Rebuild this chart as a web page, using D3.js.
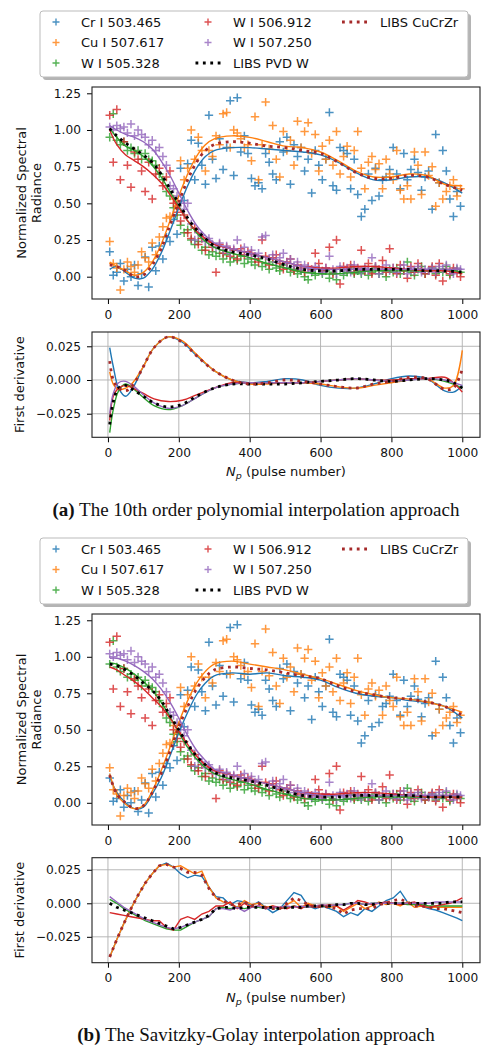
<!DOCTYPE html>
<html>
<head>
<meta charset="utf-8">
<script src="https://cdn.jsdelivr.net/npm/d3@7"></script>
<style>
body { margin: 0; background: #fff; }
svg text { font-family: "DejaVu Sans", sans-serif; fill: #111; }
</style>
</head>
<body>
<div id="chart"></div>
<script>
// ---- data ----
let lineNames = ["Cr I 503.465", "Cu I 507.617", "W I 505.328", "W I 506.912", "W I 507.250"];
let colors = ["#1f77b4", "#ff7f0e", "#2ca02c", "#d62728", "#9467bd"];
let xTicks = [0, 200, 400, 600, 800, 1000];
let mainTicks = [0, 0.25, 0.5, 0.75, 1.0, 1.25];
let derivTicks = [-0.025, 0, 0.025];

// measured points (shared by both panels)
let pulseX = [5,15,25,35,45,55,65,75,85,95,105,115,125,135,145,155,165,175,185,195,
  205,215,225,235,245,255,265,275,285,295,305,315,325,335,345,355,365,375,385,395,
  405,415,425,435,445,455,465,475,485,495,505,515,525,535,545,555,565,575,585,595,
  605,615,625,635,645,655,665,675,685,695,705,715,725,735,745,755,765,775,785,795,
  805,815,825,835,845,855,865,875,885,895,905,915,925,935,945,955,965,975,985,995];
let crPts = [0.17,0.01,0.03,0.09,-0.03,0.05,0.00,0.08,-0.06,0.02,
  0.135,-0.07,0.20,0.04,0.21,0.12,0.27,0.24,0.39,0.29,
  0.74,0.52,0.77,0.93,0.66,0.91,0.76,0.63,1.10,0.80,
  0.67,0.94,0.73,0.88,1.20,0.69,1.22,0.85,0.96,0.84,
  0.67,0.62,0.64,0.60,0.84,0.78,0.70,0.66,0.92,0.85,
  0.95,0.63,0.90,0.82,0.88,0.72,0.80,0.57,0.86,0.76,
  0.66,0.80,1.12,0.62,0.59,0.88,0.86,0.84,0.60,0.80,
  0.56,0.41,0.46,0.70,0.52,0.74,0.55,0.66,0.68,0.73,
  0.88,0.70,0.60,0.84,0.66,0.73,0.80,0.71,0.59,0.68,
  0.72,0.46,0.97,0.64,0.86,0.72,0.53,0.41,0.58,0.48];
let cuPts = [0.24,0.09,0.06,-0.09,0.05,0.10,0.07,0.03,0.08,0.17,
  0.13,0.10,0.23,0.15,0.27,0.34,0.40,0.41,0.53,0.48,
  0.79,0.66,0.74,1.00,0.80,0.95,0.86,0.72,0.86,0.82,
  0.96,0.90,1.11,1.12,0.88,1.00,0.98,0.94,0.88,0.90,
  0.79,1.09,0.66,0.90,1.19,0.87,1.03,0.80,0.68,0.99,
  0.86,0.93,0.76,1.06,0.88,0.99,1.05,0.84,0.97,0.72,
  0.89,0.80,0.93,0.76,0.99,0.70,0.82,0.89,0.68,0.86,
  0.99,0.74,0.60,0.78,0.82,0.73,0.77,0.60,0.80,0.70,
  0.66,0.86,0.59,0.53,0.62,0.53,0.85,0.76,0.56,0.85,
  0.69,0.75,0.48,0.64,0.53,0.58,0.62,0.66,0.55,0.60];
let w505Pts = [0.95,1.11,0.93,0.90,0.92,0.86,0.88,0.84,0.86,0.80,
  0.84,0.80,0.79,0.76,0.70,0.66,0.58,0.55,0.47,0.42,
  0.35,0.30,0.32,0.25,0.22,0.24,0.18,0.20,0.15,0.17,
  0.14,0.16,0.12,0.15,0.10,0.13,0.11,0.14,0.09,0.12,
  0.10,0.08,0.12,0.07,0.09,0.05,0.10,0.06,0.04,0.08,
  0.06,0.03,0.05,0.02,0.04,0.00,-0.02,0.03,0.01,0.05,
  0.02,0.04,-0.01,0.03,-0.02,0.05,0.01,0.03,0.06,0.02,
  0.04,0.02,0.05,0.01,0.03,0.06,0.02,0.04,0.00,0.05,
  0.03,0.06,0.02,0.04,0.10,0.03,0.01,0.05,0.07,0.02,
  0.04,0.06,0.02,0.05,0.03,0.07,0.01,0.04,0.05,0.03];
let w506Pts = [1.10,0.78,1.14,0.66,0.92,0.76,0.61,0.85,0.80,0.72,
  0.58,0.78,0.53,0.70,0.74,0.62,0.68,0.72,0.50,0.44,
  0.38,0.42,0.30,0.26,0.33,0.22,0.26,0.18,0.24,0.20,
  0.03,0.22,0.16,0.20,0.14,0.18,0.12,0.19,0.15,0.17,
  0.16,0.12,0.10,0.25,0.14,0.08,0.13,0.15,0.09,0.05,
  0.10,0.12,0.04,0.08,0.06,0.03,0.07,0.05,0.16,0.09,
  0.04,0.06,0.20,0.02,0.25,-0.05,0.07,0.05,0.08,0.03,
  0.06,0.18,0.04,0.09,0.02,0.07,0.05,0.11,0.03,0.19,
  0.06,0.02,0.08,0.04,-0.01,0.07,0.03,0.09,0.05,0.02,
  0.04,0.07,0.01,0.09,-0.03,0.05,0.02,0.06,0.03,0.00];
let w507Pts = [1.02,1.00,1.03,1.01,1.02,0.98,1.04,0.96,1.00,0.97,
  0.95,0.90,0.93,0.86,0.88,0.82,0.76,0.62,0.60,0.55,
  0.50,0.46,0.50,0.36,0.25,0.30,0.28,0.24,0.26,0.22,
  0.20,0.23,0.18,0.21,0.16,0.19,0.25,0.17,0.20,0.15,
  0.18,0.14,0.16,0.27,0.28,0.12,0.15,0.10,0.13,0.16,
  0.09,0.12,0.07,0.10,0.05,0.08,0.06,0.04,0.07,0.05,
  0.03,0.06,0.14,0.05,0.02,0.07,0.04,0.06,0.03,0.08,
  0.05,0.03,0.06,0.04,0.13,0.07,0.02,0.05,0.08,0.04,
  0.06,0.03,0.05,0.08,0.02,0.06,0.04,0.07,0.03,0.05,
  0.04,0.06,0.03,0.07,0.05,0.08,0.04,0.02,0.06,0.05];

// fitted curves
let fitX = [5,25,50,75,100,125,150,175,200,225,250,275,300,350,400,450,500,550,600,650,700,750,800,850,900,950,1000];
let polyCr    = [0.05,0.07,0.03,-0.01,-0.01,0.05,0.16,0.31,0.47,0.62,0.74,0.82,0.86,0.88,0.88,0.87,0.86,0.85,0.83,0.78,0.71,0.66,0.66,0.68,0.68,0.64,0.57];
let polyCu    = [0.10,0.07,0.04,0.01,0.03,0.10,0.22,0.38,0.55,0.70,0.82,0.90,0.94,0.96,0.95,0.92,0.89,0.88,0.85,0.79,0.72,0.68,0.68,0.70,0.69,0.63,0.62];
let polyW505  = [1.01,0.95,0.89,0.86,0.82,0.76,0.68,0.58,0.48,0.38,0.30,0.24,0.20,0.16,0.13,0.09,0.06,0.03,0.02,0.02,0.03,0.04,0.04,0.04,0.04,0.05,0.03];
let polyW506  = [1.00,0.90,0.83,0.79,0.75,0.70,0.64,0.56,0.47,0.38,0.31,0.26,0.22,0.19,0.16,0.13,0.10,0.07,0.06,0.06,0.07,0.07,0.06,0.05,0.04,0.04,0.02];
let polyW507  = [1.03,1.00,0.97,0.95,0.92,0.87,0.79,0.69,0.57,0.45,0.35,0.28,0.23,0.19,0.16,0.13,0.10,0.07,0.05,0.05,0.05,0.05,0.05,0.05,0.05,0.05,0.05];
let polyPvdW  = [1.01,0.96,0.91,0.87,0.83,0.78,0.70,0.60,0.50,0.40,0.32,0.26,0.21,0.17,0.15,0.12,0.08,0.05,0.04,0.04,0.05,0.05,0.05,0.05,0.04,0.04,0.03];
let polyCuCrZr= [0.08,0.07,0.04,0.00,0.01,0.08,0.19,0.35,0.51,0.66,0.78,0.86,0.90,0.92,0.91,0.89,0.88,0.86,0.84,0.78,0.71,0.67,0.67,0.69,0.68,0.63,0.59];

let sgCr      = [0.18,0.07,0.00,-0.04,-0.03,0.06,0.17,0.32,0.48,0.62,0.74,0.82,0.87,0.89,0.88,0.89,0.87,0.86,0.84,0.79,0.75,0.73,0.72,0.70,0.69,0.66,0.58];
let sgCu      = [0.20,0.06,-0.01,-0.04,-0.02,0.08,0.22,0.38,0.55,0.70,0.82,0.90,0.95,0.97,0.95,0.93,0.91,0.88,0.85,0.81,0.77,0.74,0.72,0.71,0.69,0.66,0.62];
let sgW505    = [0.96,0.95,0.92,0.88,0.83,0.77,0.69,0.59,0.48,0.38,0.30,0.24,0.20,0.16,0.13,0.09,0.06,0.03,0.02,0.02,0.03,0.04,0.04,0.04,0.04,0.04,0.04];
let sgW506    = [0.93,0.91,0.87,0.83,0.78,0.72,0.66,0.58,0.49,0.40,0.32,0.26,0.22,0.19,0.16,0.13,0.10,0.07,0.06,0.06,0.07,0.07,0.06,0.05,0.04,0.04,0.04];
let sgW507    = [0.99,0.99,0.97,0.94,0.90,0.85,0.78,0.69,0.58,0.46,0.36,0.29,0.23,0.19,0.16,0.13,0.10,0.07,0.05,0.05,0.05,0.05,0.05,0.05,0.05,0.05,0.05];
let sgPvdW    = [0.95,0.94,0.91,0.87,0.82,0.77,0.70,0.60,0.50,0.40,0.32,0.26,0.21,0.17,0.15,0.12,0.08,0.05,0.04,0.04,0.05,0.05,0.05,0.05,0.04,0.04,0.04];
let sgCuCrZr  = [0.19,0.06,0.00,-0.04,-0.02,0.07,0.20,0.35,0.52,0.66,0.78,0.86,0.91,0.93,0.92,0.91,0.89,0.87,0.85,0.80,0.76,0.74,0.72,0.71,0.69,0.66,0.60];

// first derivatives, polynomial
let derivX = [5,15,30,50,70,100,130,170,210,250,300,350,400,450,500,550,600,650,700,750,800,850,900,950,975,1000];
let dPolyCr    = [0.024,0.010,-0.006,-0.012,-0.006,0.010,0.024,0.032,0.028,0.018,0.007,0.000,-0.002,-0.001,0.001,0.000,-0.004,-0.006,-0.006,-0.003,0.001,0.003,0.001,-0.008,-0.009,-0.004];
let dPolyCu    = [0.006,-0.003,-0.007,-0.006,-0.002,0.010,0.024,0.032,0.029,0.019,0.007,0.000,-0.003,-0.003,-0.002,-0.002,-0.003,-0.005,-0.006,-0.004,-0.002,0.000,0.001,-0.006,-0.004,0.022];
let dPolyW505  = [-0.039,-0.022,-0.008,-0.003,-0.006,-0.013,-0.019,-0.022,-0.019,-0.013,-0.006,-0.003,-0.002,-0.002,-0.002,-0.002,-0.001,0.000,0.001,0.000,-0.001,0.000,0.001,-0.001,-0.003,-0.006];
let dPolyW506  = [-0.030,-0.012,-0.006,-0.004,-0.006,-0.010,-0.014,-0.016,-0.015,-0.011,-0.006,-0.002,-0.002,-0.002,-0.002,-0.002,-0.001,0.000,0.001,0.000,0.000,0.001,0.001,0.002,-0.002,-0.009];
let dPolyW507  = [-0.025,-0.010,-0.002,-0.001,-0.004,-0.011,-0.017,-0.021,-0.019,-0.013,-0.006,-0.003,-0.002,-0.002,-0.002,-0.002,-0.001,0.000,0.001,0.000,-0.001,0.000,0.001,0.000,-0.002,-0.004];
let dPolyPvdW  = [-0.033,-0.016,-0.006,-0.004,-0.007,-0.012,-0.017,-0.020,-0.018,-0.012,-0.006,-0.003,-0.003,-0.003,-0.003,-0.002,-0.001,0.000,0.001,0.000,-0.001,0.000,0.001,0.000,-0.002,-0.006];
let dPolyCuCrZr= [0.014,0.000,-0.006,-0.008,-0.004,0.010,0.024,0.032,0.028,0.018,0.007,0.000,-0.003,-0.002,0.000,-0.001,-0.003,-0.005,-0.006,-0.003,-0.001,0.002,0.001,-0.007,-0.006,0.008];

// first derivatives, Savitzky-Golay
let sgDX = [5,25,45,65,85,105,125,145,165,185,205,225,245,265,285,305,325,345,365,385,405,425,445,465,485,
  505,525,545,565,585,605,625,645,665,685,705,725,745,765,785,805,825,845,865,885,905,925,945,965,985,1000];
let dSgCr = [-0.040,-0.027,-0.015,-0.004,0.006,0.015,0.022,0.028,0.030,0.027,0.022,0.019,0.021,0.020,0.012,0.005,0.004,-0.001,0.002,0.001,-0.002,0.001,-0.003,-0.007,-0.004,
  0.002,0.008,0.006,-0.002,-0.004,-0.002,-0.004,-0.006,-0.010,-0.007,-0.009,-0.004,-0.006,-0.002,0.002,0.004,0.009,0.001,-0.001,-0.002,-0.004,-0.005,-0.007,-0.009,-0.011,-0.013];
let dSgCu = [-0.040,-0.027,-0.015,-0.004,0.006,0.015,0.022,0.028,0.029,0.027,0.028,0.025,0.022,0.024,0.012,0.004,0.001,0.000,-0.003,0.002,-0.001,0.000,-0.003,-0.002,-0.004,
  -0.001,0.002,-0.003,0.000,-0.002,-0.001,-0.003,-0.002,-0.006,-0.003,0.000,-0.004,-0.002,0.001,-0.001,0.000,-0.002,0.001,-0.003,-0.002,-0.003,-0.003,-0.003,-0.003,-0.003,-0.003];
let dSgW505 = [0.003,0.000,-0.004,-0.007,-0.010,-0.013,-0.015,-0.017,-0.019,-0.020,-0.020,-0.017,-0.014,-0.012,-0.010,-0.004,-0.003,-0.004,-0.003,-0.004,-0.003,-0.003,-0.004,-0.003,-0.004,
  -0.003,-0.002,-0.003,-0.003,-0.002,-0.002,-0.002,-0.001,-0.001,0.000,0.000,-0.001,0.000,0.000,0.000,0.000,0.000,-0.001,-0.001,-0.001,-0.002,-0.002,-0.002,-0.002,-0.002,-0.002];
let dSgW506 = [-0.007,-0.008,-0.009,-0.010,-0.011,-0.012,-0.013,-0.013,-0.018,-0.020,-0.012,-0.010,-0.012,-0.008,-0.006,-0.002,-0.002,0.001,-0.004,0.000,-0.003,-0.002,-0.004,-0.002,-0.003,
  -0.004,-0.002,-0.004,-0.001,-0.003,-0.002,-0.001,-0.002,-0.005,-0.002,0.002,0.001,-0.001,0.000,0.001,0.000,-0.001,0.000,0.001,-0.002,-0.003,-0.002,-0.001,0.000,0.002,0.004];
let dSgW507 = [0.005,0.001,-0.003,-0.006,-0.009,-0.012,-0.014,-0.016,-0.018,-0.019,-0.018,-0.016,-0.014,-0.012,-0.010,-0.004,-0.004,-0.005,-0.003,-0.006,-0.003,-0.002,-0.004,-0.003,-0.003,
  -0.002,-0.003,-0.002,-0.003,-0.002,-0.001,-0.002,-0.001,-0.001,0.000,0.000,-0.001,0.000,0.000,0.000,0.000,0.000,0.000,0.000,0.000,0.000,0.001,0.001,0.001,0.001,0.001];
let dSgPvdW = [0.000,-0.003,-0.005,-0.007,-0.009,-0.011,-0.013,-0.015,-0.017,-0.019,-0.018,-0.016,-0.014,-0.012,-0.009,-0.004,-0.003,-0.003,-0.004,-0.003,-0.003,-0.003,-0.003,-0.003,-0.004,
  -0.003,-0.003,-0.003,-0.002,-0.002,-0.002,-0.002,-0.001,-0.001,0.000,0.000,-0.001,-0.001,0.000,0.000,0.000,0.000,0.000,0.000,0.000,0.000,0.000,0.000,0.001,0.001,0.001];
let dSgCuCrZr = [-0.040,-0.027,-0.015,-0.004,0.006,0.015,0.022,0.028,0.029,0.027,0.026,0.023,0.023,0.021,0.011,0.004,0.002,-0.001,-0.001,0.001,-0.002,0.000,-0.003,-0.004,-0.004,
  0.000,0.004,0.002,-0.001,-0.003,-0.002,-0.003,-0.004,-0.008,-0.005,-0.004,-0.004,-0.004,-0.001,0.000,0.002,0.003,0.001,-0.002,-0.002,-0.003,-0.004,-0.004,-0.005,-0.006,-0.007];

// ---- drawing ----
let width = 481, height = 1050;
let left = 92, right = 480;
let tickFont = 12.2, labelFont = 13;
let svg = d3.select("#chart").append("svg").attr("width", width).attr("height", height);

let x = d3.scaleLinear().domain([-45, 1050]).range([left, right]);
let pts = [crPts, cuPts, w505Pts, w506Pts, w507Pts];

function drawLines(g, y, xs, series, curve, dotted) {
    let line = d3.line().x((d, i) => x(xs[i])).y(d => y(d)).curve(curve);
    series.forEach((s, k) => {
        g.append("path").attr("d", line(s)).attr("fill", "none")
            .attr("stroke", colors[k]).attr("stroke-width", 1.4);
    });
    // LIBS curves, dotted
    g.append("path").attr("d", line(dotted[0])).attr("fill", "none")
        .attr("stroke", "#000").attr("stroke-width", 2.8).attr("stroke-dasharray", "2.8,4.6");
    g.append("path").attr("d", line(dotted[1])).attr("fill", "none")
        .attr("stroke", "#a52a2a").attr("stroke-width", 2.8).attr("stroke-dasharray", "2.8,4.6");
}

function axes(top, bottom, y, ticks, fmt) {
    svg.append("g").attr("transform", `translate(0,${bottom})`)
        .call(d3.axisBottom(x).tickValues(xTicks).tickSize(5).tickSizeOuter(0).tickPadding(6).tickFormat(d3.format("d")))
        .call(g => g.select(".domain").remove())
        .call(g => g.selectAll("text").attr("font-size", tickFont).attr("font-family", "DejaVu Sans"));
    svg.append("g").attr("transform", `translate(${left},0)`)
        .call(d3.axisLeft(y).tickValues(ticks).tickSize(5).tickSizeOuter(0).tickPadding(6).tickFormat(d3.format(fmt)))
        .call(g => g.select(".domain").remove())
        .call(g => g.selectAll("text").attr("font-size", tickFont).attr("font-family", "DejaVu Sans"));
    svg.append("rect").attr("x", left).attr("y", top).attr("width", right - left).attr("height", bottom - top)
        .attr("fill", "none").attr("stroke", "#222").attr("stroke-width", 1.1);
}

function mainPanel(top, bottom, fits, id) {
    let y = d3.scaleLinear().domain([-0.152, 1.293]).range([bottom, top]);
    svg.append("clipPath").attr("id", id).append("rect")
        .attr("x", left).attr("y", top).attr("width", right - left).attr("height", bottom - top);
    let g = svg.append("g").attr("clip-path", `url(#${id})`);
    pts.forEach((arr, k) => {
        g.append("g").selectAll("path").data(arr).join("path")
            .attr("d", "M-4.2,0H4.2M0,-4.2V4.2")
            .attr("transform", (d, i) => `translate(${x(pulseX[i])},${y(d)})`)
            .attr("stroke", colors[k]).attr("stroke-width", 1.5).attr("opacity", 0.8);
    });
    drawLines(g, y, fitX, fits.slice(0, 5), d3.curveCatmullRom, fits.slice(5));
    axes(top, bottom, y, mainTicks, ".2f");

    let lab = svg.append("text").attr("transform", `translate(21,${(top + bottom) / 2}) rotate(-90)`)
        .attr("text-anchor", "middle").attr("font-size", labelFont);
    lab.append("tspan").attr("x", 0).attr("dy", "0.35em").text("Normalized Spectral");
    lab.append("tspan").attr("x", 0).attr("dy", "1.22em").text("Radiance");
}

function derivPanel(top, bottom, domain, xs, series, curve, id) {
    let y = d3.scaleLinear().domain(domain).range([bottom, top]);
    // grid
    let grid = svg.append("g").attr("stroke", "#b0b0b0").attr("stroke-width", 0.9);
    grid.selectAll(".gx").data(xTicks).join("line")
        .attr("x1", d => x(d)).attr("x2", d => x(d)).attr("y1", top).attr("y2", bottom);
    grid.selectAll(".gy").data(derivTicks).join("line")
        .attr("x1", left).attr("x2", right).attr("y1", d => y(d)).attr("y2", d => y(d));
    svg.append("clipPath").attr("id", id).append("rect")
        .attr("x", left).attr("y", top).attr("width", right - left).attr("height", bottom - top);
    let g = svg.append("g").attr("clip-path", `url(#${id})`);
    drawLines(g, y, xs, series.slice(0, 5), curve, series.slice(5));
    axes(top, bottom, y, derivTicks, ".3f");

    svg.append("text").attr("transform", `translate(19,${(top + bottom) / 2}) rotate(-90)`)
        .attr("text-anchor", "middle").attr("dy", "0.35em").attr("font-size", labelFont).text("First derivative");

    let xl = svg.append("text").attr("x", (left + right) / 2).attr("y", bottom + 39)
        .attr("text-anchor", "middle").attr("font-size", labelFont);
    xl.append("tspan").attr("font-style", "italic").text("N");
    xl.append("tspan").attr("font-style", "italic").attr("font-size", 9.5).attr("dy", 3).text("p");
    xl.append("tspan").attr("dy", -3).text(" (pulse number)");
}

function legend(top) {
    let lg = svg.append("g");
    lg.append("rect").attr("x", 43).attr("y", top + 3).attr("width", 428).attr("height", 66)
        .attr("rx", 3).attr("fill", "#777").attr("opacity", 0.55);
    lg.append("rect").attr("x", 40).attr("y", top).attr("width", 428).attr("height", 66)
        .attr("rx", 3).attr("fill", "#fff").attr("stroke", "#bbb").attr("stroke-width", 1);
    let rows = [top + 11, top + 31.5, top + 52];
    let items = [
        { name: lineNames[0], color: colors[0], mx: 56, tx: 81, ry: rows[0] },
        { name: lineNames[1], color: colors[1], mx: 56, tx: 81, ry: rows[1] },
        { name: lineNames[2], color: colors[2], mx: 56, tx: 81, ry: rows[2] },
        { name: lineNames[3], color: colors[3], mx: 208, tx: 233, ry: rows[0] },
        { name: lineNames[4], color: colors[4], mx: 208, tx: 233, ry: rows[1] },
        { name: "LIBS PVD W", color: "#000", mx: 208, tx: 233, ry: rows[2], dot: true },
        { name: "LIBS CuCrZr", color: "#a52a2a", mx: 354.5, tx: 380, ry: rows[0], dot: true }
    ];
    items.forEach(it => {
        if (it.dot) {
            lg.append("line").attr("x1", it.mx - 12.5).attr("x2", it.mx + 12.5)
                .attr("y1", it.ry).attr("y2", it.ry).attr("stroke", it.color)
                .attr("stroke-width", 2.8).attr("stroke-dasharray", "2.8,4.6");
        } else {
            lg.append("path").attr("d", `M${it.mx - 3.5},${it.ry}H${it.mx + 3.5}M${it.mx},${it.ry - 3.5}V${it.ry + 3.5}`)
                .attr("stroke", it.color).attr("stroke-width", 1.4).attr("opacity", 0.8);
        }
        lg.append("text").attr("x", it.tx).attr("y", it.ry).attr("dy", "0.36em")
            .attr("font-size", labelFont).text(it.name);
    });
}

function caption(cy, label, rest) {
    let t = svg.append("text").attr("x", 256).attr("y", cy).attr("text-anchor", "middle")
        .attr("font-size", 19).style("font-family", "'Liberation Serif', serif");
    t.append("tspan").attr("font-weight", "bold").text(label);
    t.append("tspan").text(" " + rest);
}

// panel (a)
legend(11);
mainPanel(87, 299, [polyCr, polyCu, polyW505, polyW506, polyW507, polyPvdW, polyCuCrZr], "clipA");
derivPanel(332, 437.3, [-0.0425, 0.0356], derivX,
    [dPolyCr, dPolyCu, dPolyW505, dPolyW506, dPolyW507, dPolyPvdW, dPolyCuCrZr], d3.curveCatmullRom, "clipAD");
caption(516, "(a)", "The 10th order polynomial interpolation approach");

// panel (b)
legend(538);
mainPanel(614, 825, [sgCr, sgCu, sgW505, sgW506, sgW507, sgPvdW, sgCuCrZr], "clipB");
derivPanel(857.7, 962.7, [-0.0443, 0.034], sgDX,
    [dSgCr, dSgCu, dSgW505, dSgW506, dSgW507, dSgPvdW, dSgCuCrZr], d3.curveLinear, "clipBD");
caption(1041, "(b)", "The Savitzky-Golay interpolation approach");
</script>
</body>
</html>
